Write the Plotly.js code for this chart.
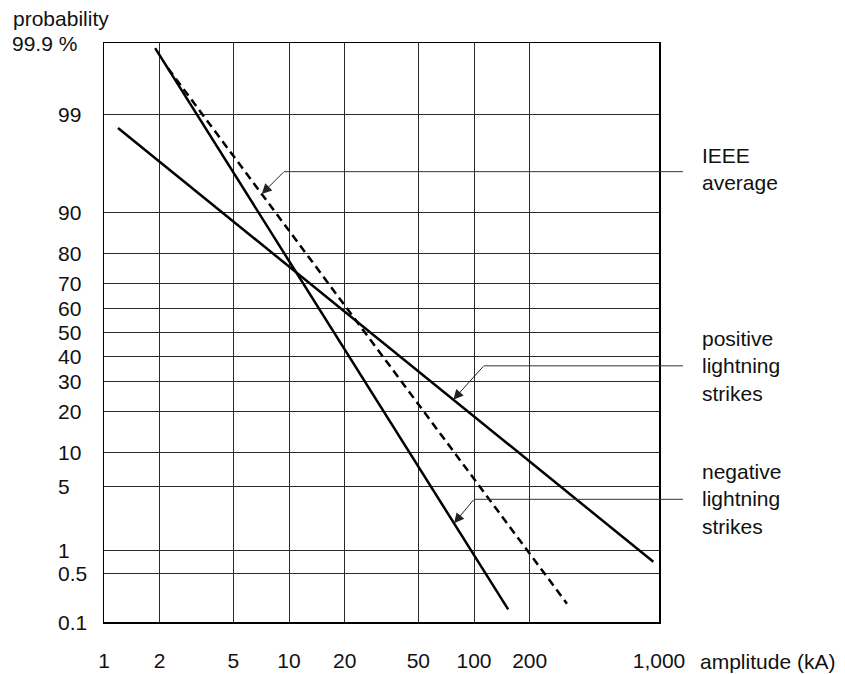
<!DOCTYPE html>
<html>
<head>
<meta charset="utf-8">
<script src="https://cdn.plot.ly/plotly-3.0.1.min.js"></script>
<style>html,body{margin:0;padding:0;background:#fff;}#chart{width:845px;height:674px;}</style>
</head>
<body>
<div id="chart"></div>
<script>
// ---- data ----
const xTickVals = [1, 2, 5, 10, 20, 50, 100, 200, 1000];
const xTickText = ["1", "2", "5", "10", "20", "50", "100", "200", "1,000"];
const yTickVals = [99.9, 99, 90, 80, 70, 60, 50, 40, 30, 20, 10, 5, 1, 0.5, 0.1];
const yTickText = ["99.9 %", "99", "90", "80", "70", "60", "50", "40", "30", "20", "10", "5", "1", "0.5", "0.1"];

const negAmp = [1.89, 153];      // kA
const negProb = [99.88, 0.156];  // %
const ieeeAmp = [2.22, 318];
const ieeeProb = [99.76, 0.19];
const posAmp = [1.19, 932];
const posProb = [98.55, 0.72];

// ---- normal probability scale ----
function probit(p){
  const a=[-3.969683028665376e+01,2.209460984245205e+02,-2.759285104469687e+02,1.383577518672690e+02,-3.066479806614716e+01,2.506628277459239e+00];
  const b=[-5.447609879822406e+01,1.615858368580409e+02,-1.556989798598866e+02,6.680131188771972e+01,-1.328068155288572e+01];
  const c=[-7.784894002430293e-03,-3.223964580411365e-01,-2.400758277161838e+00,-2.549732539343734e+00,4.374664141464968e+00,2.938163982698783e+00];
  const d=[7.784695709041462e-03,3.224671290700398e-01,2.445134137142996e+00,3.754408661907416e+00];
  const pl=0.02425, ph=1-pl; let q,r;
  if(p<pl){q=Math.sqrt(-2*Math.log(p));return (((((c[0]*q+c[1])*q+c[2])*q+c[3])*q+c[4])*q+c[5])/((((d[0]*q+d[1])*q+d[2])*q+d[3])*q+1);}
  if(p<=ph){q=p-0.5;r=q*q;return (((((a[0]*r+a[1])*r+a[2])*r+a[3])*r+a[4])*r+a[5])*q/(((((b[0]*r+b[1])*r+b[2])*r+b[3])*r+b[4])*r+1);}
  q=Math.sqrt(-2*Math.log(1-p));return -(((((c[0]*q+c[1])*q+c[2])*q+c[3])*q+c[4])*q+c[5])/((((d[0]*q+d[1])*q+d[2])*q+d[3])*q+1);
}
const Z = pct => probit(pct/100);
function zOnLine(amps, probs, a){
  const l0=Math.log10(amps[0]), l1=Math.log10(amps[1]);
  const t=(Math.log10(a)-l0)/(l1-l0);
  const z0=Z(probs[0]), z1=Z(probs[1]);
  return z0+t*(z1-z0);
}

const FONT = "Liberation Sans, Arial, Helvetica, sans-serif";
const FS = 21;
const TXT = '#111';
const zTop = Z(99.9), zBot = Z(0.1);

const traces = [
  {x: negAmp, y: negProb.map(Z), mode:'lines', line:{color:'#000', width:2.5}, hoverinfo:'skip'},
  {x: ieeeAmp, y: ieeeProb.map(Z), mode:'lines', line:{color:'#000', width:2.5, dash:'8px,5px'}, hoverinfo:'skip'},
  {x: posAmp, y: posProb.map(Z), mode:'lines', line:{color:'#000', width:2.5}, hoverinfo:'skip'}
];

const annotations = [];
const shapes = [];
// y tick labels (left-aligned column)
yTickVals.forEach((v,i)=>{
  const first = i===0;
  annotations.push({xref:'paper', yref:'y', x: first ? -0.045 : -0.0865, y: Z(v),
    xanchor: first ? 'right' : 'left', yanchor:'middle', text: yTickText[i], showarrow:false,
    font:{family:FONT, size:FS, color:TXT}});
});
annotations.push({xref:'paper', yref:'paper', x:-0.1676, y:1.043, xanchor:'left', yanchor:'middle',
  text:'probability', showarrow:false, font:{family:FONT, size:FS, color:TXT}});
annotations.push({xref:'paper', yref:'paper', x:1.0703, y:-0.069, xanchor:'left', yanchor:'middle',
  text:'amplitude (kA)', showarrow:false, font:{family:FONT, size:FS, color:TXT}});

// callouts: label, line it points at, tip amplitude, elbow amplitude, leader level (%)
const callouts = [
  {text:'IEEE<br>average', amps:ieeeAmp, probs:ieeeProb, tip:7.12, elbow:9.4, level:95.7, shift:3},
  {text:'positive<br>lightning<br>strikes', amps:posAmp, probs:posProb, tip:77.3, elbow:113, level:36.1, shift:0},
  {text:'negative<br>lightning<br>strikes', amps:negAmp, probs:negProb, tip:78, elbow:100, level:3.75, shift:0}
];
callouts.forEach(c=>{
  const zl = Z(c.level);
  annotations.push({x:Math.log10(c.tip), y:zOnLine(c.amps,c.probs,c.tip), xref:'x', yref:'y',
    axref:'x', ayref:'y', ax:Math.log10(c.elbow), ay:zl, text:'', showarrow:true,
    arrowhead:2, arrowsize:2, arrowwidth:1, arrowcolor:'#222', borderpad:0});
  shapes.push({type:'line', xref:'paper', yref:'y', x0:Math.log10(c.elbow)/3, x1:1.0432, y0:zl, y1:zl,
    line:{color:'#333', width:1}});
  annotations.push({xref:'paper', yref:'y', x:1.0739, y:zl, xanchor:'left', yanchor:'middle', align:'left',
    yshift:c.shift, text:c.text, showarrow:false, font:{family:FONT, size:FS, color:TXT}});
});

const layout = {
  width:845, height:674,
  margin:{l:104, r:186, t:43, b:52},
  paper_bgcolor:'#fff', plot_bgcolor:'#fff',
  showlegend:false,
  font:{family:FONT, size:FS, color:TXT},
  xaxis:{type:'log', range:[0,3], tickvals:xTickVals, ticktext:xTickText,
    ticks:'outside', ticklen:19, tickcolor:'rgba(0,0,0,0)',
    showgrid:true, gridcolor:'#2a2a2a', gridwidth:1,
    showline:true, linecolor:'#000', linewidth:1.5, mirror:true, zeroline:false,
    tickfont:{family:FONT, size:FS, color:TXT}},
  yaxis:{type:'linear', range:[zBot, zTop], tickvals:yTickVals.map(Z), showticklabels:false,
    ticks:'', showgrid:true, gridcolor:'#2a2a2a', gridwidth:1,
    showline:true, linecolor:'#000', linewidth:1.5, mirror:true, zeroline:false},
  annotations, shapes
};

Plotly.newPlot('chart', traces, layout, {staticPlot:true, displayModeBar:false});
</script>
</body>
</html>
